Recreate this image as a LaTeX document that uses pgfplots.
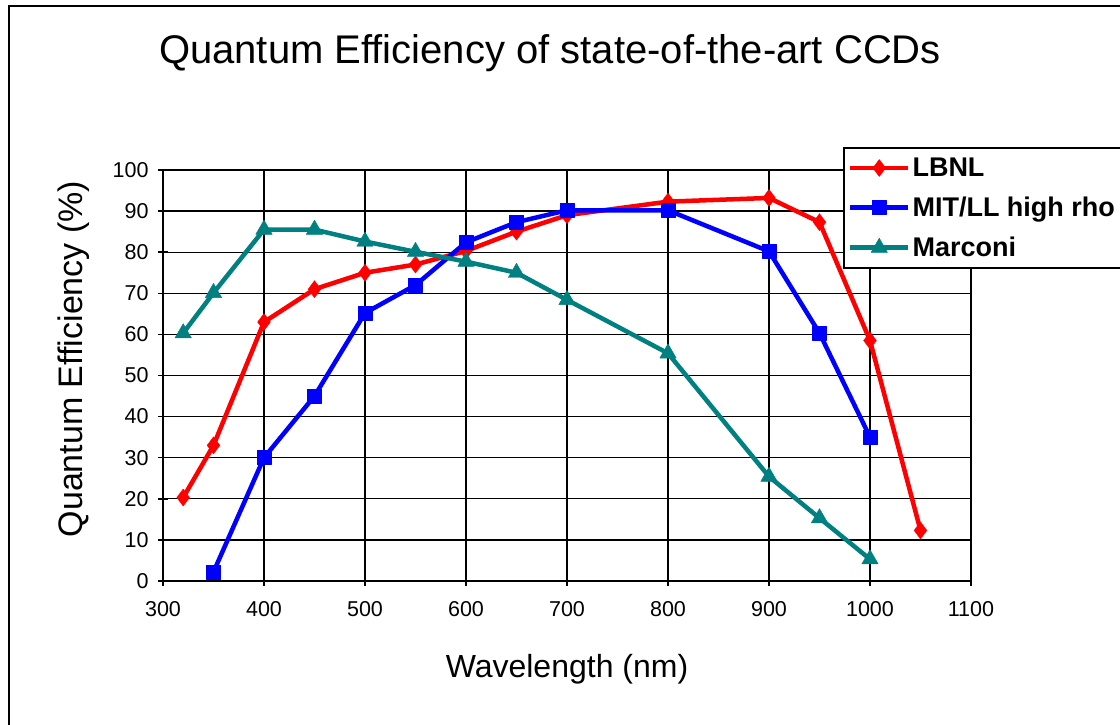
\documentclass[border=0pt]{standalone}
\usepackage{pgfplots}
\pgfplotsset{compat=1.18}
\usepackage{fontspec}
\setmainfont{Liberation Sans}
\definecolor{exred}{RGB}{255,0,0}
\definecolor{exblue}{RGB}{0,0,255}
\definecolor{exteal}{RGB}{0,128,128}
\begin{document}
\begin{tikzpicture}[x=1pt,y=1pt]
\clip (0,0) rectangle (1120,725);
\fill[white] (0,0) rectangle (1120,725);
\draw[line width=2.5pt] (9,-10) -- (9,719) -- (1130,719);
\begin{axis}[
  at={(163pt,144pt)}, anchor=south west,
  width=808pt, height=411pt, scale only axis,
  xmin=300, xmax=1100, ymin=0, ymax=100,
  xtick distance=100, ytick distance=10,
  axis lines=left, axis line style={-, line width=2pt},
  grid=major, major grid style={black, line width=1.3pt},
  tick align=center, major tick length=10pt, tick style={black, line width=1.5pt},
  ticklabel style={font=\fontsize{21.5}{24}\selectfont},
  /pgf/number format/assume math mode=true,
  /pgf/number format/1000 sep={},
  xticklabel style={yshift=-12pt},
  yticklabel style={xshift=-6pt},
  title={Quantum Efficiency of state-of-the-art CCDs},
  title style={at={(axis description cs:0.479,1.245)}, anchor=base, font=\fontsize{40}{44}\selectfont},
  xlabel={Wavelength (nm)},
  xlabel style={at={(axis description cs:0.5,-0.236)}, anchor=base, font=\fontsize{32}{36}\selectfont},
  ylabel={Quantum Efficiency (\%)},
  ylabel style={at={(axis description cs:-0.1,0.54)}, anchor=base, font=\fontsize{34}{38}\selectfont},
  legend cell align=left,
  legend style={at={(axis description cs:0.8416,1.056)}, anchor=north west,
    draw=black, line width=2pt, fill=white,
    font=\bfseries\fontsize{27}{30}\selectfont, row sep=15pt, inner xsep=4pt, inner ysep=8pt},
  legend image code/.code={\draw[mark repeat=2,mark phase=2,#1] plot coordinates {(0pt,0pt) (29pt,0pt) (58pt,0pt)};},
]
\addplot[exred, line width=4.5pt, line join=round, mark=diamond*, mark size=8.5pt,
  mark options={solid, fill=exred, draw=exred, line width=0.4pt}]
  coordinates {(320,20.3)(350,33)(400,63)(450,71)(500,75)(550,77)(600,80.3)(650,85)(700,89)(800,92.3)(900,93.2)(950,87.3)(1000,58.5)(1050,12.3)};
\addlegendentry{LBNL}
\addplot[exblue, line width=4.5pt, line join=round, mark=square*, mark size=7pt,
  mark options={solid, fill=exblue, draw=exblue, line width=0.4pt}]
  coordinates {(350,2.2)(400,30)(450,45)(500,65.2)(550,72)(600,82.4)(650,87.3)(700,90.2)(800,90.2)(900,80.2)(950,60.3)(1000,35)};
\addlegendentry{MIT/LL high rho\hspace{30pt}}
\addplot[exteal, line width=4.5pt, line join=round, mark=triangle*, mark size=9.5pt,
  mark options={solid, fill=exteal, draw=exteal, line width=0.4pt}]
  coordinates {(320,60.3)(350,70.1)(400,85.5)(450,85.5)(500,82.6)(550,80.1)(600,77.7)(650,75)(700,68.4)(800,55.4)(900,25.4)(950,15.3)(1000,5.3)};
\addlegendentry{Marconi}
\end{axis}
\end{tikzpicture}
\end{document}
